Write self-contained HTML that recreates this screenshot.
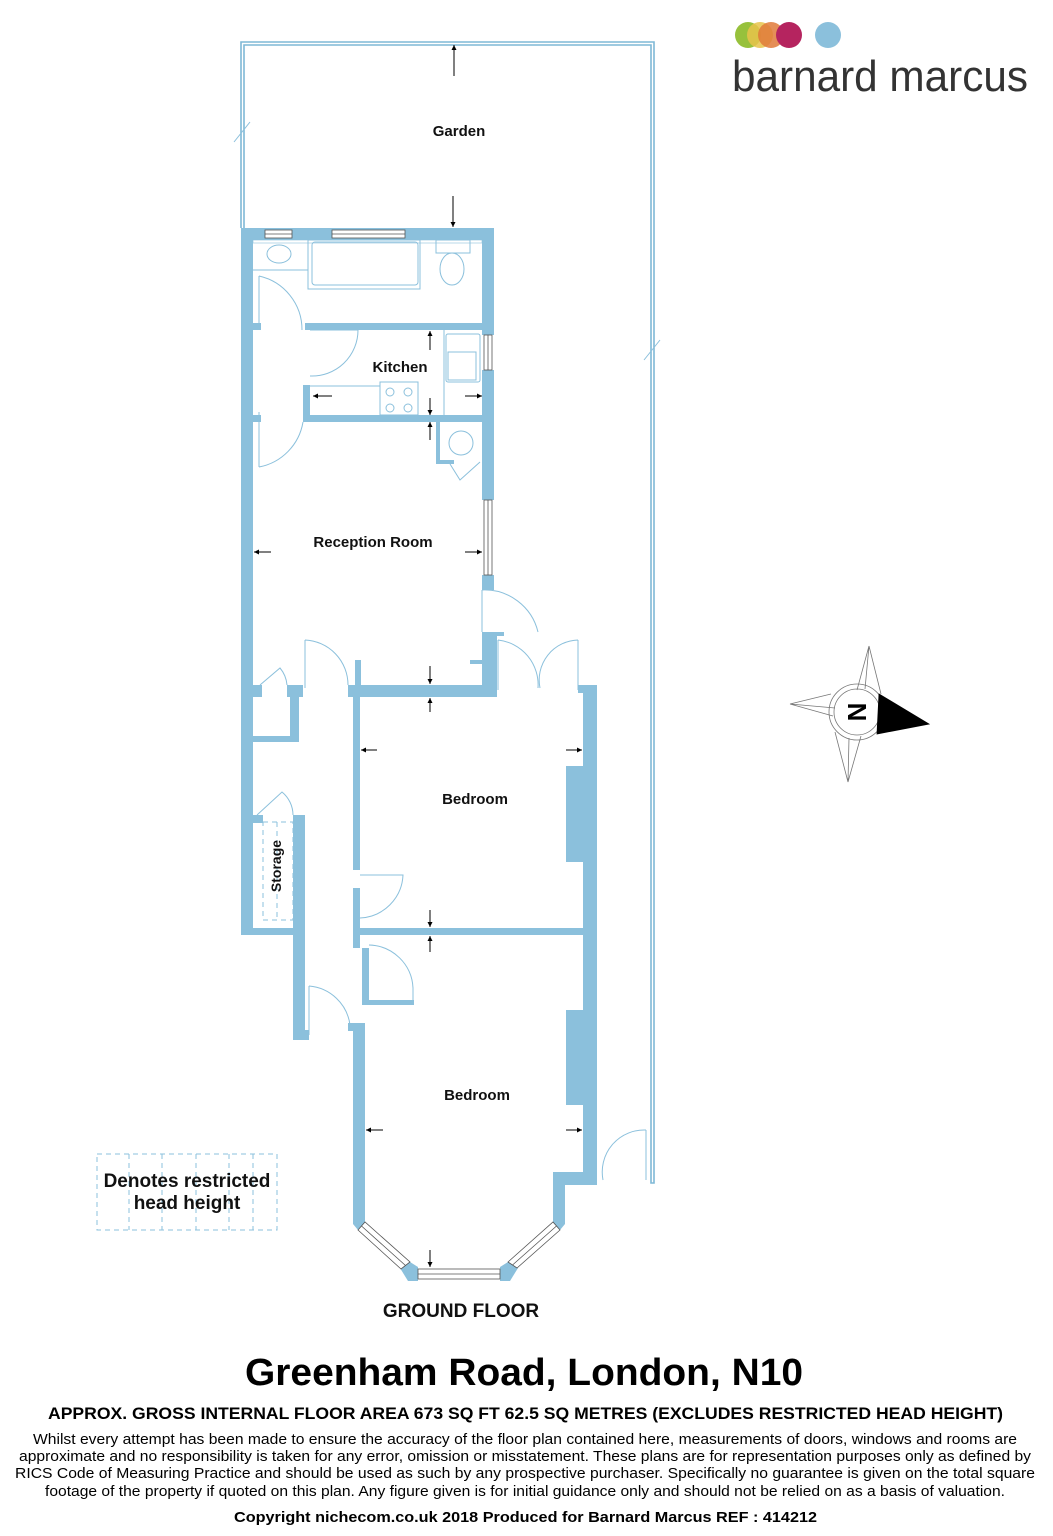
<!DOCTYPE html>
<html><head><meta charset="utf-8"><style>
html,body{margin:0;padding:0;background:#fff}
svg{display:block}
text{font-family:"Liberation Sans",sans-serif}
</style></head><body>
<svg width="1053" height="1536" viewBox="0 0 1053 1536" xmlns="http://www.w3.org/2000/svg">
<defs>
<marker id="ah" viewBox="0 0 10 10" refX="10" refY="5" markerWidth="5" markerHeight="5" orient="auto"><path d="M0,0L10,5L0,10z" fill="#000"/></marker>
</defs>
<g fill="none" stroke="#7fb8d6" stroke-width="1.6">
<path d="M241,228 V42 H654 V1183 H651 V45 H244 V228"/>
</g>
<g fill="#8bc0dc">
<rect x="241" y="228" width="12" height="707"/>
<rect x="241" y="228" width="253" height="12"/>
<rect x="482" y="228" width="12" height="107"/>
<rect x="482" y="370" width="12" height="130"/>
<rect x="482" y="575" width="12" height="15"/>
<rect x="305" y="323" width="177" height="7"/>
<rect x="253" y="323" width="8" height="7"/>
<rect x="303" y="415" width="179" height="7"/>
<rect x="253" y="415" width="8" height="7"/>
<rect x="303" y="385" width="7" height="37"/>
<rect x="436" y="422" width="4" height="42"/>
<rect x="436" y="460" width="18" height="4"/>
<rect x="348" y="685" width="149" height="12"/>
<rect x="482" y="632" width="15" height="65"/>
<rect x="482" y="632" width="22" height="4"/>
<rect x="355" y="660" width="6" height="30"/>
<rect x="470" y="660" width="12" height="4"/>
<rect x="253" y="685" width="9" height="12"/>
<rect x="287" y="685" width="16" height="12"/>
<rect x="290" y="697" width="9" height="45"/>
<rect x="253" y="736" width="46" height="6"/>
<rect x="353" y="697" width="7" height="173"/>
<rect x="353" y="888" width="7" height="60"/>
<rect x="360" y="928" width="225" height="7"/>
<rect x="583" y="685" width="14" height="500"/>
<rect x="578" y="685" width="10" height="8"/>
<rect x="566" y="766" width="17" height="96"/>
<rect x="566" y="1010" width="17" height="95"/>
<rect x="293" y="815" width="12" height="225"/>
<rect x="241" y="928" width="64" height="7"/>
<rect x="253" y="815" width="10" height="8"/>
<rect x="305" y="1030" width="4" height="10"/>
<rect x="362" y="948" width="7" height="52"/>
<rect x="362" y="1000" width="52" height="5"/>
<rect x="353" y="1023" width="12" height="197"/>
<rect x="348" y="1023" width="10" height="8"/>
<rect x="553" y="1172" width="44" height="13"/>
<rect x="553" y="1172" width="12" height="50"/>
<path d="M353,1216 L365,1216 L365,1222 L358,1230 L353,1224z"/>
<path d="M400,1268 L410,1262 L418,1267 L418,1281 L408,1281z"/>
<path d="M500,1267 L508,1262 L518,1268 L510,1281 L500,1281z"/>
<path d="M553,1216 L565,1216 L565,1224 L560,1230 L553,1222z"/>
</g>
<g fill="#fff" stroke="#555" stroke-width="0.8">
<rect x="265" y="230" width="27" height="8"/>
<rect x="332" y="230" width="73" height="8"/>
<rect x="484" y="335" width="8" height="35"/>
<rect x="484" y="500" width="8" height="75"/>
<rect x="418" y="1269" width="82" height="10"/>
<path d="M358,1230 L365,1222 L410,1262 L401,1269z"/>
<path d="M508,1262 L553,1222 L560,1230 L517,1268z"/>
</g>
<g stroke="#555" stroke-width="0.8" fill="none">
<line x1="265" y1="234" x2="292" y2="234"/><line x1="332" y1="234" x2="405" y2="234"/>
<line x1="488" y1="335" x2="488" y2="370"/><line x1="488" y1="500" x2="488" y2="575"/>
<line x1="418" y1="1274" x2="500" y2="1274"/>
<line x1="361.5" y1="1226" x2="405.5" y2="1265.5"/>
<line x1="512.5" y1="1265" x2="556.5" y2="1226"/>
</g>
<g fill="none" stroke="#8bc0dc" stroke-width="1">
<path d="M259,276 V330 M259,276 A55,55 0 0 1 302,330"/>
<path d="M259,412 V467 M259,467 A55,55 0 0 0 303,422"/>
<path d="M310,330 H358 M310,376 A46,46 0 0 0 358,330"/>
<path d="M482,590 A55,55 0 0 1 538,632 M482,590 V632"/>
<path d="M305,640 V688 M305,640 A45,45 0 0 1 348,685"/>
<path d="M260,685 L280,668 A30,30 0 0 1 287,685"/>
<path d="M498,640 V690 M498,640 A45,45 0 0 1 538,688 M578,640 V690 M578,640 A40,40 0 0 0 540,688"/>
<path d="M257,815 L282,792 A30,30 0 0 1 293,815"/>
<path d="M360,875 H403 A45,45 0 0 1 360,918"/>
<path d="M369,945 A45,45 0 0 1 413,988 V1000"/>
<path d="M309,986 V1035 M309,986 A45,45 0 0 1 350,1025"/>
<path d="M646,1130 V1180 M646,1130 A42,42 0 0 0 603,1180"/>
<path d="M450,464 L460,480 L480,462"/>
<rect x="253" y="240" width="229" height="3" stroke-width="0.6"/>
<rect x="312" y="242" width="106" height="43" rx="3"/>
<rect x="308" y="240" width="112" height="49"/>
<ellipse cx="279" cy="254" rx="12" ry="9"/>
<rect x="436" y="240" width="34" height="13"/>
<ellipse cx="452" cy="269" rx="12" ry="16"/>
<rect x="446" y="334" width="34" height="48" rx="2"/>
<rect x="448" y="352" width="28" height="28"/>
<rect x="380" y="382" width="38" height="33"/>
<circle cx="390" cy="392" r="4"/><circle cx="408" cy="392" r="4"/><circle cx="390" cy="408" r="4"/><circle cx="408" cy="408" r="4"/>
<line x1="310" y1="386" x2="380" y2="386"/>
<line x1="444" y1="330" x2="444" y2="415"/>
<circle cx="461" cy="443" r="12"/>
<line x1="253" y1="270" x2="308" y2="270"/>
</g>
<g fill="none" stroke="#8bc0dc" stroke-width="1" stroke-dasharray="5,4">
<rect x="263" y="822" width="30" height="98"/>
<line x1="277" y1="822" x2="277" y2="920"/>
<rect x="97" y="1154" width="180" height="76"/>
<line x1="129" y1="1154" x2="129" y2="1230"/><line x1="162" y1="1154" x2="162" y2="1230"/>
<line x1="196" y1="1154" x2="196" y2="1230"/><line x1="229" y1="1154" x2="229" y2="1230"/><line x1="253" y1="1154" x2="253" y2="1230"/>
</g>
<g stroke="#000" stroke-width="1" marker-end="url(#ah)">
<line x1="454" y1="76" x2="454" y2="45"/>
<line x1="453" y1="196" x2="453" y2="227"/>
<line x1="430" y1="350" x2="430" y2="331"/>
<line x1="430" y1="398" x2="430" y2="415"/>
<line x1="430" y1="440" x2="430" y2="422"/>
<line x1="332" y1="396" x2="313" y2="396"/>
<line x1="465" y1="396" x2="482" y2="396"/>
<line x1="271" y1="552" x2="254" y2="552"/>
<line x1="465" y1="552" x2="482" y2="552"/>
<line x1="430" y1="666" x2="430" y2="684"/>
<line x1="430" y1="712" x2="430" y2="698"/>
<line x1="377" y1="750" x2="361" y2="750"/>
<line x1="566" y1="750" x2="582" y2="750"/>
<line x1="430" y1="910" x2="430" y2="927"/>
<line x1="430" y1="952" x2="430" y2="936"/>
<line x1="383" y1="1130" x2="366" y2="1130"/>
<line x1="566" y1="1130" x2="582" y2="1130"/>
<line x1="430" y1="1250" x2="430" y2="1267"/>
</g>
<g stroke="#8bc0dc" stroke-width="1"><line x1="234" y1="142" x2="250" y2="122"/><line x1="644" y1="360" x2="660" y2="340"/></g>
<g font-weight="bold" fill="#111" text-anchor="middle" font-size="15">
<text x="459" y="136">Garden</text>
<text x="400" y="372">Kitchen</text>
<text x="373" y="547">Reception Room</text>
<text x="475" y="804">Bedroom</text>
<text x="477" y="1100">Bedroom</text>
<text transform="translate(281,866) rotate(-90)" font-size="14">Storage</text>
<text x="187" y="1187" font-size="19">Denotes restricted</text>
<text x="187" y="1209" font-size="19">head height</text>
<text x="461" y="1317" font-size="19">GROUND FLOOR</text>
</g>
<g transform="translate(857,712)" fill="none" stroke="#777" stroke-width="0.8">
<path d="M12,-66 L0,-22 M12,-66 L24,-18 M12,-66 L8,-23"/>
<path d="M-67,-8 L-22,-4 M-67,-8 L-26,-18 M-67,-8 L-24,4"/>
<path d="M-9,70 L-22,20 M-9,70 L4,24 M-9,70 L-8,26"/>
<circle r="28"/><circle r="23"/>
<path d="M22,-18 L72,12 L20,22z" fill="#000" stroke="#000"/>
<text transform="rotate(90)" x="0" y="9" text-anchor="middle" font-size="26" font-weight="bold" fill="#000" stroke="none">N</text>
</g>
<circle cx="748" cy="35" r="13" fill="#97c13c"/>
<circle cx="760" cy="35" r="13" fill="#e8c34a" opacity="0.85"/>
<circle cx="771" cy="35" r="13" fill="#e07a3a" opacity="0.85"/>
<circle cx="789" cy="35" r="13" fill="#b5245f"/>
<circle cx="828" cy="35" r="13" fill="#8bc0dc"/>
<text x="732" y="91" font-size="44" fill="#333" textLength="296" lengthAdjust="spacingAndGlyphs" font-weight="lighter">barnard marcus</text>
<g fill="#000" text-anchor="start">
<text x="245" y="1385" font-size="38" font-weight="bold" textLength="558" lengthAdjust="spacingAndGlyphs">Greenham Road, London, N10</text>
<text x="48" y="1419" font-size="17" font-weight="bold" textLength="955" lengthAdjust="spacingAndGlyphs">APPROX. GROSS INTERNAL FLOOR AREA 673 SQ FT 62.5 SQ METRES (EXCLUDES RESTRICTED HEAD HEIGHT)</text>
<text x="33" y="1444" font-size="15" textLength="984" lengthAdjust="spacingAndGlyphs">Whilst every attempt has been made to ensure the accuracy of the floor plan contained here, measurements of doors, windows and rooms are</text>
<text x="19" y="1461" font-size="15" textLength="1012" lengthAdjust="spacingAndGlyphs">approximate and no responsibility is taken for any error, omission or misstatement. These plans are for representation purposes only as defined by</text>
<text x="15" y="1478" font-size="15" textLength="1020" lengthAdjust="spacingAndGlyphs">RICS Code of Measuring Practice and should be used as such by any prospective purchaser.  Specifically no guarantee is given on the total square</text>
<text x="45" y="1496" font-size="15" textLength="960" lengthAdjust="spacingAndGlyphs">footage of the property if quoted on this plan. Any figure given is for initial guidance only and should not be relied on as a basis of valuation.</text>
<text x="234" y="1522" font-size="15" font-weight="bold" textLength="583" lengthAdjust="spacingAndGlyphs">Copyright nichecom.co.uk 2018    Produced for Barnard Marcus    REF : 414212</text>
</g>
</svg>
</body></html>
